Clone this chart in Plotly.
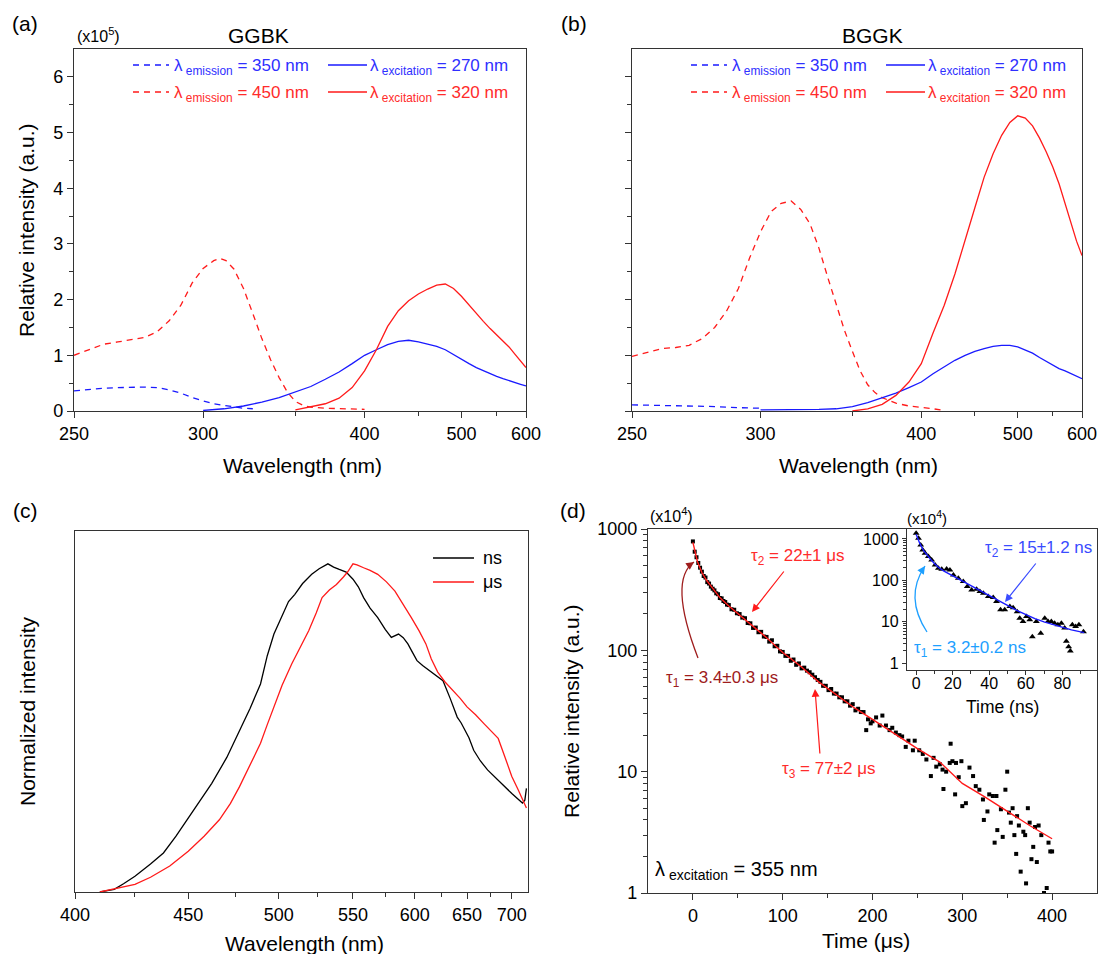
import plotly.graph_objects as go

# ---------------- data ----------------
# (a) GGBK, relative intensity in units of 1e5
ggbk_em350_wl = [250, 255, 260, 265, 270, 275, 280, 285, 290, 295, 300, 305, 310, 315, 320, 325]
ggbk_em350_int = [0.36, 0.39, 0.41, 0.42, 0.43, 0.43, 0.42, 0.38, 0.32, 0.24, 0.18, 0.13, 0.10, 0.07, 0.05, 0.04]
ggbk_em450_wl = [250, 255, 260, 265, 270, 275, 280, 285, 290, 295, 300, 305, 308, 311, 315, 320, 325, 330,
                 335, 340, 345, 350, 355, 360, 370, 380, 390, 400]
ggbk_em450_int = [1.00, 1.10, 1.20, 1.24, 1.28, 1.32, 1.42, 1.62, 1.90, 2.30, 2.56, 2.70, 2.74, 2.70, 2.55, 2.20,
                  1.75, 1.30, 0.92, 0.60, 0.34, 0.17, 0.10, 0.07, 0.05, 0.04, 0.035, 0.03]
ggbk_ex270_wl = [300, 310, 320, 330, 340, 350, 360, 370, 380, 390, 400, 410, 420, 430, 440, 450, 460, 470, 480,
                 490, 500, 510, 520, 530, 540, 550, 560, 570, 580, 590, 600]
ggbk_ex270_int = [0.01, 0.04, 0.09, 0.16, 0.24, 0.34, 0.44, 0.57, 0.70, 0.85, 1.00, 1.10, 1.19, 1.25, 1.27, 1.24,
                  1.20, 1.16, 1.10, 1.01, 0.92, 0.85, 0.78, 0.72, 0.67, 0.62, 0.58, 0.55, 0.51, 0.48, 0.45]
ggbk_ex320_wl = [350, 360, 370, 380, 390, 400, 410, 420, 430, 440, 450, 460, 470, 480, 490, 500, 510, 520, 530,
                 540, 550, 560, 570, 580, 590, 600]
ggbk_ex320_int = [0.02, 0.07, 0.13, 0.23, 0.42, 0.72, 1.10, 1.52, 1.80, 1.98, 2.10, 2.19, 2.26, 2.28, 2.20, 2.06,
                  1.90, 1.75, 1.61, 1.48, 1.37, 1.26, 1.15, 1.02, 0.90, 0.78]

# (b) BGGK
bggk_em350_wl = [250, 260, 270, 280, 290, 300]
bggk_em350_int = [0.11, 0.10, 0.09, 0.08, 0.06, 0.05]
bggk_em450_wl = [250, 255, 260, 265, 270, 275, 280, 285, 290, 295, 300, 305, 310, 315, 320, 325, 330, 335, 340,
                 345, 350, 355, 360, 365, 370, 380, 390, 400, 410, 420]
bggk_em450_int = [0.98, 1.05, 1.12, 1.14, 1.18, 1.30, 1.50, 1.80, 2.20, 2.75, 3.22, 3.58, 3.73, 3.77, 3.62, 3.36,
                  2.92, 2.40, 1.90, 1.45, 1.07, 0.72, 0.47, 0.33, 0.24, 0.14, 0.09, 0.07, 0.04, 0.01]
bggk_ex270_wl = [300, 310, 320, 330, 340, 350, 360, 370, 380, 390, 400, 410, 420, 430, 440, 450, 460, 470, 480,
                 490, 500, 510, 520, 530, 540, 550, 560, 570, 580, 590, 600]
bggk_ex270_int = [0.02, 0.02, 0.02, 0.03, 0.04, 0.08, 0.15, 0.23, 0.32, 0.42, 0.52, 0.67, 0.80, 0.91, 1.00, 1.07,
                  1.12, 1.16, 1.18, 1.18, 1.15, 1.10, 1.04, 0.96, 0.89, 0.82, 0.76, 0.72, 0.67, 0.62, 0.58]
bggk_ex320_wl = [350, 360, 370, 380, 390, 400, 410, 420, 430, 440, 450, 460, 470, 480, 490, 500, 510, 520, 530,
                 540, 550, 560, 570, 580, 590, 600]
bggk_ex320_int = [0.00, 0.04, 0.12, 0.28, 0.52, 0.85, 1.40, 1.90, 2.46, 3.05, 3.65, 4.20, 4.62, 4.95, 5.18, 5.30,
                  5.26, 5.12, 4.90, 4.65, 4.38, 4.08, 3.72, 3.35, 3.05, 2.79]

# (c) normalized emission, ns and us gated
ns_wl = [410, 416, 420, 425, 432, 438, 444, 450, 456, 462, 470, 477, 483, 489, 493, 497, 500, 503, 506, 510,
         515, 521, 526, 532, 536, 540, 545, 550, 554, 558, 563, 569, 575, 580, 586, 590, 594, 598, 602, 607,
         613, 620, 626, 633, 640, 644, 648, 652, 657, 664, 672, 680, 688, 700, 713, 716, 718]
ns_int = [0.0, 0.008, 0.025, 0.048, 0.085, 0.119, 0.17, 0.225, 0.28, 0.331, 0.41, 0.493, 0.56, 0.634, 0.72,
          0.786, 0.82, 0.857, 0.885, 0.907, 0.94, 0.968, 0.985, 1.0, 0.99, 0.983, 0.975, 0.953, 0.93, 0.897,
          0.865, 0.836, 0.80, 0.776, 0.786, 0.775, 0.756, 0.73, 0.705, 0.69, 0.675, 0.66, 0.644, 0.59, 0.533,
          0.515, 0.493, 0.47, 0.432, 0.40, 0.372, 0.35, 0.331, 0.30, 0.271, 0.28, 0.316]
us_wl = [410, 418, 425, 432, 441, 450, 458, 466, 472, 477, 483, 489, 493, 497, 502, 508, 514, 519, 524, 528,
         533, 538, 543, 546, 550, 553, 558, 563, 569, 576, 583, 590, 597, 604, 610, 615, 621, 628, 636, 643,
         650, 659, 668, 676, 684, 692, 700, 708, 718]
us_int = [0.0, 0.012, 0.023, 0.045, 0.079, 0.124, 0.17, 0.220, 0.27, 0.321, 0.39, 0.453, 0.51, 0.564, 0.63,
          0.695, 0.75, 0.796, 0.85, 0.897, 0.92, 0.937, 0.960, 0.975, 1.0, 0.997, 0.988, 0.98, 0.968, 0.945,
          0.917, 0.877, 0.836, 0.795, 0.756, 0.71, 0.670, 0.64, 0.614, 0.59, 0.564, 0.54, 0.513, 0.49, 0.468,
          0.41, 0.352, 0.31, 0.256]

# (d) decay, microseconds (intensity x1e4)
decay_t = [0, 2, 4, 6, 8, 10, 12, 14, 16, 18, 20, 22, 24, 26, 28, 30, 32, 34, 36, 38, 40, 43, 46, 49, 52, 55,
           58, 61, 64, 67, 70, 73, 76, 79, 82, 85, 88, 91, 94, 97, 100, 103, 106, 109, 112, 115, 118, 121, 124,
           127, 130, 133, 136, 139, 142, 145, 148, 151, 154, 157, 160, 163, 166, 169, 172, 175, 178, 181, 184,
           187, 190, 193, 195, 198, 200, 204, 208, 211, 215, 219, 222, 226, 230, 233, 237, 240, 245, 247, 252,
           256, 260, 265, 268, 271, 275, 278, 279, 282, 286, 287, 289, 292, 293, 296, 299, 300, 304, 308, 312,
           315, 319, 323, 324, 328, 330, 334, 336, 338, 339, 343, 345, 348, 350, 352, 354, 356, 358, 360, 361,
           363, 365, 368, 370, 371, 373, 375, 377, 379, 381, 383, 385, 388, 391, 394, 396, 398, 400]
decay_v = [790, 650, 585, 525, 480, 445, 410, 398, 365, 355, 335, 322, 312, 295, 290, 270, 268, 255, 250, 238,
           236, 218, 216, 202, 199, 186, 184, 168, 167, 153, 154, 141, 142, 130, 129, 118, 121, 108, 109, 98,
           97, 90, 90, 82, 84, 76, 78, 71, 72, 68, 66, 63, 60, 57, 55, 51, 51, 47, 48, 44, 44, 41, 41, 38, 38,
           35, 36, 32, 33, 31, 31, 22, 27, 25, 26, 28, 24, 29, 24, 22, 23, 21, 20, 19.5, 16, 18, 15, 18, 15,
           14, 12.6, 9.2, 13, 11, 11.5, 10.4, 7.2, 10, 11.8, 17, 12.2, 6.5, 11.8, 9, 12.2, 5.2, 5.5, 10.8, 9.2,
           7.6, 7.1, 5.9, 4.0, 4.7, 6.5, 6.3, 2.6, 6.3, 3.3, 4.9, 2.9, 7.1, 10, 4.6, 3.8, 5.0, 3.0, 2.1, 4.3,
           3.6, 1.5, 3.2, 3.0, 1.2, 5.0, 3.8, 1.9, 2.4, 3.5, 1.8, 3.6, 3.0, 1.0, 1.1, 2.6, 2.2, 2.2]
fit_t = [0, 2, 5, 10, 15, 20, 30, 40, 50, 60, 80, 100, 120, 140, 160, 180, 200, 225, 250, 275, 300, 325, 350,
         375, 400]
fit_v = [776, 660, 540, 438, 380, 340, 272, 232, 202, 174, 131, 96, 74, 55, 43, 33.5, 27, 20.5, 15.5, 12, 8.0,
         6.2, 4.7, 3.6, 2.8]

# (d) inset, nanoseconds (intensity x1e4)
ins_t = [0, 1.3, 2.5, 3.6, 4.9, 6.7, 8.5, 10.4, 12.2, 14, 16.7, 18.5, 20.4, 23.1, 25.8, 28, 30.4, 33.1, 34.9,
         36.8, 39.5, 42.2, 44, 46.2, 48.5, 51.3, 53.1, 55.3, 56.7, 58.5, 60.4, 62.2, 63.6, 65.8, 68.2, 70.4,
         72.2, 74, 75.8, 77.6, 79.5, 81.3, 82.2, 83.5, 84.4, 85.5, 87.3, 89.1, 91.6]
ins_v = [1371, 1040, 717, 543, 452, 375, 312, 236, 196, 186, 189, 179, 136, 113, 94, 71, 59, 61, 54, 49, 41,
         38.5, 31, 19.5, 19.5, 23.4, 22, 17.6, 12.3, 10.2, 13.5, 11.2, 4.4, 10.2, 5.3, 12.3, 10.2, 10.2, 9.3,
         8.5, 9.3, 7.1, 3.4, 2.5, 2.0, 8.5, 7.7, 8.5, 5.8]
ins_fit_t = [0, 2, 4, 6, 8, 10, 12, 15, 20, 25, 30, 35, 40, 45, 50, 55, 60, 65, 70, 75, 80, 85, 92]
ins_fit_v = [1300, 780, 530, 400, 320, 255, 210, 170, 130, 100, 75, 56, 43, 33, 25, 19, 15, 12, 10, 8.5, 7.3,
             6.4, 5.5]

# ---------------- helpers ----------------
W, H = 1099, 954
FONT = "Liberation Sans, Arial, sans-serif"
BLUE = "#1a1aff"
RED = "#ff1a1a"
BLUE_TXT = "#2f2fff"
RED_TXT = "#ff2b2b"
DARKRED = "#9e1c1c"
AX = "#333333"
DASH = "6px,5px"


def fx(px):
    return px / W


def fy(py):
    return 1 - py / H


def inv(wl):
    # reciprocal (energy-like) wavelength scale
    return [1000.0 / w for w in wl]


def frame(**kw):
    d = dict(showline=True, linecolor=AX, linewidth=1.2, mirror=True, ticks="outside", ticklen=6,
             tickwidth=1.2, tickcolor=AX, showgrid=False, zeroline=False, automargin=False,
             tickfont=dict(size=18, color="black", family=FONT))
    d.update(kw)
    return d


def minor(vals, ln=3.5):
    return dict(tickvals=vals, ticks="outside", ticklen=ln, tickwidth=1.1, tickcolor=AX)


fig = go.Figure()


def line(x, y, color, ax, dash="solid", w=1.3):
    fig.add_trace(go.Scatter(x=x, y=y, mode="lines", line=dict(color=color, width=w, dash=dash),
                             xaxis="x" + ax, yaxis="y" + ax, hoverinfo="skip"))


# (a)
line(inv(ggbk_em350_wl), ggbk_em350_int, BLUE, "", DASH)
line(inv(ggbk_em450_wl), ggbk_em450_int, RED, "", DASH)
line(inv(ggbk_ex270_wl), ggbk_ex270_int, BLUE, "")
line(inv(ggbk_ex320_wl), ggbk_ex320_int, RED, "")
# (b)
line(inv(bggk_em350_wl), bggk_em350_int, BLUE, "2", DASH)
line(inv(bggk_em450_wl), bggk_em450_int, RED, "2", DASH)
line(inv(bggk_ex270_wl), bggk_ex270_int, BLUE, "2")
line(inv(bggk_ex320_wl), bggk_ex320_int, RED, "2")
# (c)
line(inv(ns_wl), ns_int, "black", "3")
line(inv(us_wl), us_int, RED, "3")
# (d)
fig.add_trace(go.Scatter(x=decay_t, y=decay_v, mode="markers", xaxis="x4", yaxis="y4",
                         marker=dict(symbol="square", size=4, color="black")))
line(fit_t, fit_v, RED, "4", w=1.4)
# inset
fig.add_trace(go.Scatter(x=ins_t, y=ins_v, mode="markers", xaxis="x5", yaxis="y5",
                         marker=dict(symbol="triangle-up", size=6, color="black")))
line(ins_fit_t, ins_fit_v, BLUE, "5", w=1.4)

wl_ab = [250, 300, 400, 500, 600]
wl_c = [400, 450, 500, 550, 600, 650, 700]
log_minor = [2, 3, 4, 5, 6, 7, 8, 9, 20, 30, 40, 50, 60, 70, 80, 90, 200, 300, 400, 500, 600, 700, 800, 900]

fig.update_layout(
    width=W, height=H, margin=dict(l=0, r=0, t=0, b=0, pad=0, autoexpand=False),
    paper_bgcolor="white", plot_bgcolor="white", showlegend=False,
    font=dict(family=FONT, size=18, color="black"),
    xaxis=frame(domain=[fx(74), fx(526)], range=[1000 / 250, 1000 / 600], anchor="y",
                tickvals=inv(wl_ab), ticktext=[str(v) for v in wl_ab], minor=minor(inv([350, 450, 550]))),
    yaxis=frame(domain=[fy(411), fy(49)], range=[0, 6.5], anchor="x", tickvals=[0, 1, 2, 3, 4, 5, 6],
                minor=minor([0.5, 1.5, 2.5, 3.5, 4.5, 5.5])),
    xaxis2=frame(domain=[fx(632), fx(1082)], range=[1000 / 250, 1000 / 600], anchor="y2",
                 tickvals=inv(wl_ab), ticktext=[str(v) for v in wl_ab], minor=minor(inv([350, 450, 550]))),
    yaxis2=frame(domain=[fy(411), fy(49)], range=[0, 6.5], anchor="x2", tickvals=[0, 1, 2, 3, 4, 5, 6],
                 showticklabels=False, minor=minor([0.5, 1.5, 2.5, 3.5, 4.5, 5.5])),
    xaxis3=frame(domain=[fx(75), fx(528)], range=[1000 / 400, 1000 / 720], anchor="y3",
                 tickvals=inv(wl_c), ticktext=[str(v) for v in wl_c],
                 minor=minor(inv([425, 475, 525, 575, 625, 675]))),
    yaxis3=frame(domain=[fy(892), fy(531)], range=[0, 1.1], anchor="x3", ticks="", showticklabels=False),
    xaxis4=frame(domain=[fx(648), fx(1097)], range=[-50, 450], anchor="y4", tickvals=[0, 100, 200, 300, 400],
                 minor=minor([50, 150, 250, 350])),
    yaxis4=frame(domain=[fy(893), fy(529)], type="log", range=[0, 3], anchor="x4",
                 tickvals=[1, 10, 100, 1000], ticktext=["1", "10", "100", "1000"], minor=minor(log_minor)),
    xaxis5=frame(domain=[fx(907), fx(1097)], range=[-5, 99], anchor="y5", mirror=False,
                 tickvals=[0, 20, 40, 60, 80], ticklen=4, ticklabelstandoff=-5,
                 tickfont=dict(size=16, family=FONT, color="black"),
                 minor=minor([10, 30, 50, 70, 90], 2.5)),
    yaxis5=frame(domain=[fy(670), fy(529)], type="log", range=[-0.16, 3.24], anchor="x5", mirror=False,
                 tickvals=[1, 10, 100, 1000], ticktext=["1", "10", "100", "1000"], ticklen=4,
                 tickfont=dict(size=16, family=FONT, color="black"), minor=minor(log_minor, 2.5)),
)

ann = []
shapes = []


def note(text, px, py, size=21, color="black", xa="center", ya="middle", angle=0):
    ann.append(dict(text=text, x=fx(px), y=fy(py), xref="paper", yref="paper", showarrow=False,
                    xanchor=xa, yanchor=ya, textangle=angle, font=dict(size=size, color=color, family=FONT)))


def arrow(hx, hy, tx, ty, color):
    ann.append(dict(text="", x=fx(hx), y=fy(hy), xref="paper", yref="paper", ax=tx - hx, ay=ty - hy,
                    showarrow=True, arrowhead=2, arrowsize=1.3, arrowwidth=1.2, arrowcolor=color, standoff=0))


def curved_arrow(p0, c, p2, color):
    shapes.append(dict(type="path", xref="paper", yref="paper",
                       path="M %f %f Q %f %f %f %f" % (fx(p0[0]), fy(p0[1]), fx(c[0]), fy(c[1]),
                                                       fx(p2[0]), fy(p2[1])),
                       line=dict(color=color, width=1.3)))
    dx, dy = p2[0] - c[0], p2[1] - c[1]
    n = (dx * dx + dy * dy) ** 0.5
    arrow(p2[0], p2[1], p2[0] - 9 * dx / n, p2[1] - 9 * dy / n, color)


def key(x0, x1, py, color, dash):
    shapes.append(dict(type="line", xref="paper", yref="paper", x0=fx(x0), x1=fx(x1), y0=fy(py), y1=fy(py),
                       line=dict(color=color, width=1.3, dash=dash)))


# panel letters, titles
note("(a)", 25, 23)
note("(b)", 574, 23)
note("(c)", 25, 510)
note("(d)", 573, 511)
note("GGBK", 258, 35)
note("BGGK", 872, 35)
note("(x10<sup>5</sup>)", 98, 35, size=16)
note("(x10<sup>4</sup>)", 671, 515, size=16)
note("(x10<sup>4</sup>)", 927, 517, size=15)

# axis titles
note("Relative intensity (a.u.)", 27, 230, angle=-90)
note("Wavelength (nm)", 302, 465)
note("Wavelength (nm)", 858, 465)
note("Normalized intensity", 27, 711, angle=-90)
note("Wavelength (nm)", 304, 943)
note("Relative intensity (a.u.)", 571, 711, angle=-90)
note("Time (μs)", 866, 940)
note("Time (ns)", 1002, 707, size=17.5)

# legends (a) and (b)
for off in (0, 558):
    for py, col, ctxt, em, ex in ((65, BLUE, BLUE_TXT, "350", "270"), (92, RED, RED_TXT, "450", "320")):
        key(133 + off, 169 + off, py, col, DASH)
        note("λ<sub> emission</sub> = %s nm" % em, 172 + off, py + 2, size=17, color=ctxt, xa="left")
        key(328 + off, 367 + off, py, col, "solid")
        note("λ<sub> excitation</sub> = %s nm" % ex, 368 + off, py + 2, size=17, color=ctxt, xa="left")

# legend (c)
key(433, 474, 558, "black", "solid")
note("ns", 481, 558, size=18, xa="left")
key(433, 474, 582, RED, "solid")
note("μs", 481, 582, size=18, xa="left")

# (d) annotations
note("τ<sub>2</sub> = 22±1 μs", 797, 557, size=17, color=RED_TXT)
arrow(752, 612, 785, 570, RED)
note("τ<sub>1</sub> = 3.4±0.3 μs", 722, 679, size=17, color=DARKRED)
curved_arrow((698, 658), (668, 580), (694, 562), DARKRED)
note("τ<sub>3</sub> = 77±2 μs", 828, 770, size=17, color=RED_TXT)
arrow(815, 689, 820, 755, RED)
note("λ<sub> excitation</sub> = 355 nm", 653, 870, size=20, xa="left")

# inset annotations
note("τ<sub>2</sub> = 15±1.2 ns", 1038, 549, size=17, color="#3a4cff")
arrow(1005, 602, 1037, 562, "#3a4cff")
note("τ<sub>1</sub> = 3.2±0.2 ns", 970, 649, size=17, color="#1ea0ff")
curved_arrow((927, 632), (904, 597), (925, 566), "#1ea0ff")

fig.update_layout(annotations=ann, shapes=shapes)

fig.write_html("out.html", config={"displayModeBar": False},
               post_script="document.body.style.margin='0';")
